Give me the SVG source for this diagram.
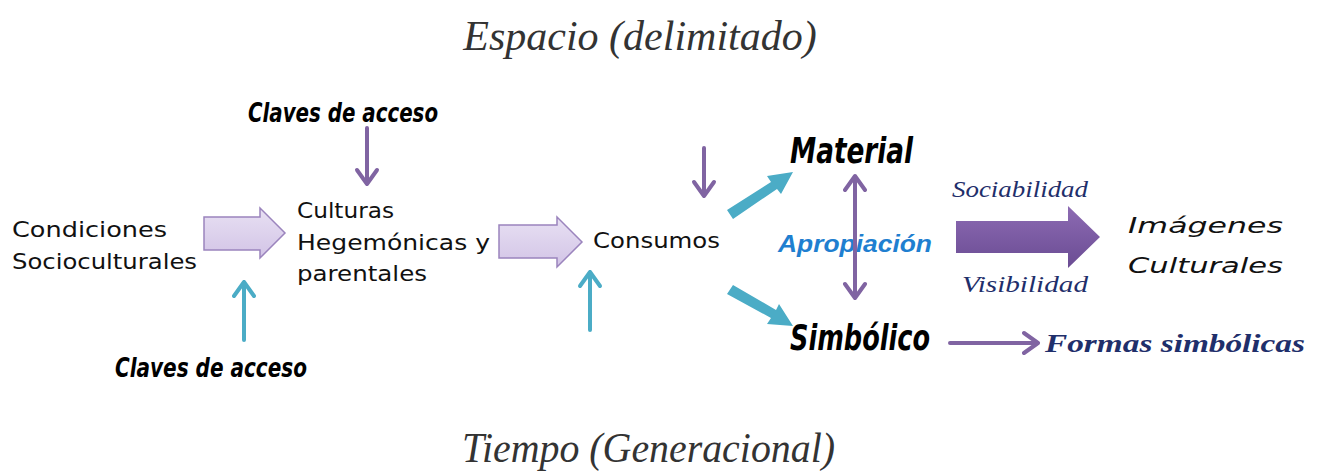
<svg xmlns="http://www.w3.org/2000/svg" width="1324" height="476" viewBox="0 0 1324 476">
<style>
.title{font-family:"Liberation Serif",serif;font-style:italic;font-size:42px;fill:#333}
.node{font-family:"DejaVu Sans","Lato",sans-serif;font-size:22px;fill:#111}
.key{font-family:"DejaVu Sans Condensed","Liberation Sans Narrow",sans-serif;font-weight:bold;font-style:italic;fill:#000}
.navy{font-family:"Liberation Serif",serif;font-style:italic;fill:#1f2f6b}
.pur{stroke:#8064a2;fill:none}
.teal{stroke:#4bacc6;fill:none}
</style>
<defs>
<linearGradient id="lp" x1="0" y1="0" x2="0" y2="1"><stop offset="0" stop-color="#e8e0f3"/><stop offset="1" stop-color="#d2c4e6"/></linearGradient>
<linearGradient id="dp" x1="0" y1="0" x2="0" y2="1"><stop offset="0" stop-color="#8d6bb3"/><stop offset="1" stop-color="#6a4c93"/></linearGradient>
</defs>
<g id="titles">
<text class="title" x="640" y="50" text-anchor="middle">Espacio (delimitado)</text>
<text class="title" x="462" y="462" font-size="40" textLength="373" lengthAdjust="spacingAndGlyphs">Tiempo (Generacional)</text>
</g>
<g id="condiciones"><text class="node" x="12" y="237" textLength="155" lengthAdjust="spacingAndGlyphs">Condiciones</text><text class="node" x="12" y="269" textLength="185" lengthAdjust="spacingAndGlyphs">Socioculturales</text></g>
<g id="culturas"><text class="node" x="297" y="218" textLength="97" lengthAdjust="spacingAndGlyphs">Culturas</text><text class="node" x="297" y="250" textLength="193" lengthAdjust="spacingAndGlyphs">Hegemónicas y</text><text class="node" x="297" y="281" textLength="130" lengthAdjust="spacingAndGlyphs">parentales</text></g>
<g id="consumos"><text class="node" x="593" y="248" font-size="20" textLength="127" lengthAdjust="spacingAndGlyphs">Consumos</text></g>
<g id="claves-top"><text class="key" x="248" y="122" font-size="27" textLength="190" lengthAdjust="spacingAndGlyphs">Claves de acceso</text></g>
<g id="claves-bottom"><text class="key" x="115" y="377" font-size="27" textLength="192" lengthAdjust="spacingAndGlyphs">Claves de acceso</text></g>
<g id="material"><text class="key" x="790" y="163" font-size="36" textLength="123" lengthAdjust="spacingAndGlyphs">Material</text></g>
<g id="simbolico"><text class="key" x="790" y="350" font-size="36" textLength="140" lengthAdjust="spacingAndGlyphs">Simbólico</text></g>
<g id="apropiacion"><text x="778" y="252" font-family="'Liberation Sans',sans-serif" font-weight="bold" font-style="italic" font-size="23" fill="#1f7fd0" textLength="154" lengthAdjust="spacingAndGlyphs">Apropiación</text></g>
<g id="sociabilidad"><text class="navy" x="952" y="197" font-size="24" textLength="136" lengthAdjust="spacingAndGlyphs">Sociabilidad</text></g>
<g id="visibilidad"><text class="navy" x="962" y="292" font-size="24" textLength="126" lengthAdjust="spacingAndGlyphs">Visibilidad</text></g>
<g id="imagenes"><text class="node" x="1128" y="233" font-size="30" font-style="italic" textLength="155" lengthAdjust="spacingAndGlyphs">Imágenes</text><text class="node" x="1128" y="273" font-size="30" font-style="italic" textLength="155" lengthAdjust="spacingAndGlyphs">Culturales</text></g>
<g id="formas"><text class="navy" x="1045" y="352" font-size="26" font-weight="bold" textLength="260" lengthAdjust="spacingAndGlyphs">Formas simbólicas</text></g>
<g id="connectors">
<path d="M204,217 H260 V208 L285,233 L260,258 V250 H204 Z" fill="url(#lp)" stroke="#9b84bd" stroke-width="1.5"/>
<path d="M499,225 H557 V217 L582,242 L557,267 V258 H499 Z" fill="url(#lp)" stroke="#9b84bd" stroke-width="1.5"/>
<path d="M956,221 H1068 V206 L1100,237 L1068,268 V253 H956 Z" fill="url(#dp)"/>
<g class="pur" stroke-width="4" stroke-linecap="round" stroke-linejoin="round">
<path d="M367,128 V184 M357,170 L367,184 L377,170"/>
<path d="M704,148 V196 M694,182 L704,196 L714,182"/>
<path d="M855,178 V296 M845,190 L855,176 L865,190 M845,284 L855,298 L865,284"/>
<path d="M950,343 H1036 M1024,333 L1038,343 L1024,353"/>
</g>
<g class="teal" stroke-width="4" stroke-linecap="round" stroke-linejoin="round">
<path d="M244,340 V282 M234,296 L244,282 L254,296"/>
<path d="M590,330 V272 M580,286 L590,272 L600,286"/>
</g>
<g fill="#4bacc6">
<path d="M727,210 L771,182 L767,176 L793,172 L781,194 L777,189 L733,219 Z"/>
<path d="M727,294 L771,318 L767,324 L793,326 L779,304 L776,310 L733,285 Z"/>
</g>
</g>
</svg>
